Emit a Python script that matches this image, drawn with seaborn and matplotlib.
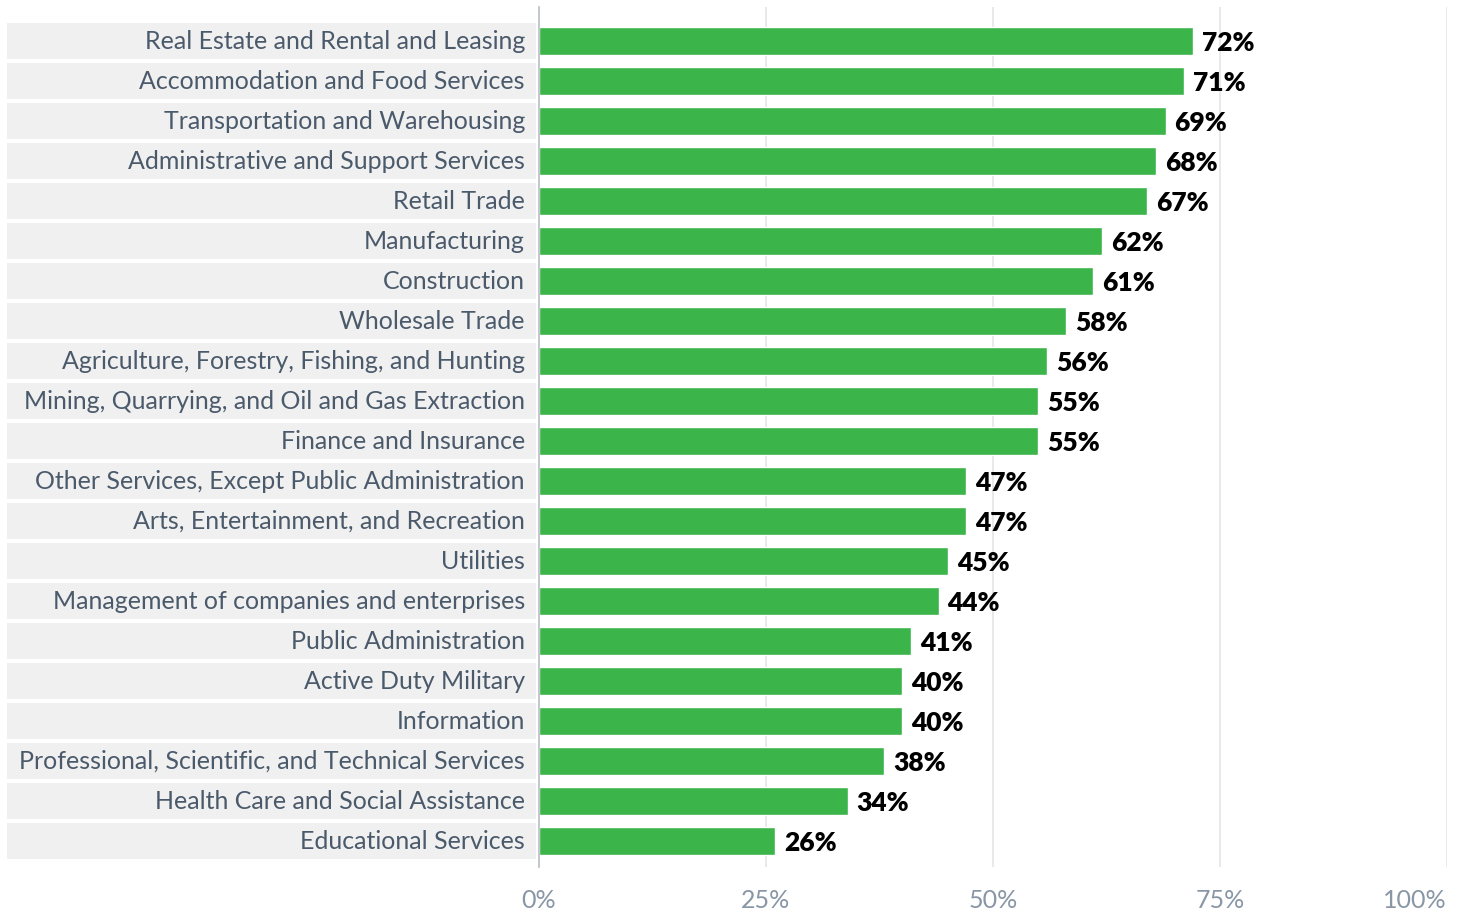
import matplotlib
matplotlib.use("Agg")
import matplotlib.pyplot as plt
import matplotlib.transforms as mtransforms
from matplotlib.patches import Rectangle
import pandas as pd
import seaborn as sns

# === Data ===
industries = [
    "Real Estate and Rental and Leasing",
    "Accommodation and Food Services",
    "Transportation and Warehousing",
    "Administrative and Support Services",
    "Retail Trade",
    "Manufacturing",
    "Construction",
    "Wholesale Trade",
    "Agriculture, Forestry, Fishing, and Hunting",
    "Mining, Quarrying, and Oil and Gas Extraction",
    "Finance and Insurance",
    "Other Services, Except Public Administration",
    "Arts, Entertainment, and Recreation",
    "Utilities",
    "Management of companies and enterprises",
    "Public Administration",
    "Active Duty Military",
    "Information",
    "Professional, Scientific, and Technical Services",
    "Health Care and Social Assistance",
    "Educational Services",
]
shares = [72, 71, 69, 68, 67, 62, 61, 58, 56, 55, 55, 47, 47, 45, 44, 41, 40, 40, 38, 34, 26]
tick_values = [0, 25, 50, 75, 100]
tick_labels = ["0%", "25%", "50%", "75%", "100%"]

df = pd.DataFrame({"industry": industries, "share": shares})

# === Style ===
sns.set_theme(style="white")
plt.rcParams["font.family"] = ["Lato", "DejaVu Sans"]

BAR_GREEN = "#3bb54a"
LABEL_COLOR = "#4b5a6b"
TICK_COLOR = "#8896a5"

fig = plt.figure(figsize=(14.65, 9.12), dpi=100)
ax = fig.add_axes([539 / 1465, 1 - 868 / 912, 908 / 1465, 860 / 912])

sns.barplot(data=df, x="share", y="industry", orient="h", color=BAR_GREEN,
            saturation=1, width=0.68, ax=ax)

ax.set_xlim(0, 100)
ax.set_ylim(20.65, -0.85)
ax.set_xlabel("")
ax.set_ylabel("")
ax.set_yticks([])
ax.set_xticks(tick_values)
ax.set_xticklabels(tick_labels, fontsize=18, color=TICK_COLOR)
ax.tick_params(axis="x", length=0, pad=15)
# last tick label sits flush against the right edge
ax.get_xticklabels()[-1].set_horizontalalignment("right")

for s in ["top", "right", "bottom"]:
    ax.spines[s].set_visible(False)
ax.spines["left"].set_color("#b8bec6")
ax.spines["left"].set_linewidth(1.2)

for v in tick_values[1:]:
    ax.axvline(v, color="#e3e3e3", lw=1.1, zorder=0)

# grey label bands + category names
trans = mtransforms.blended_transform_factory(ax.transAxes, ax.transData)
for i, (name, val) in enumerate(zip(industries, shares)):
    ax.add_patch(Rectangle((-0.586, i - 0.44), 0.583, 0.88, transform=trans,
                           facecolor="#f0f0f0", edgecolor="none", clip_on=False, zorder=0))
    ax.text(-0.0155, i - 0.02, name, transform=trans, ha="right", va="center",
            fontsize=18, color=LABEL_COLOR)
    ax.text(val + 1.0, i + 0.03, f"{val}%", ha="left", va="center",
            fontsize=19, fontweight="heavy", color="black")

fig.savefig("out.png", dpi=100)
